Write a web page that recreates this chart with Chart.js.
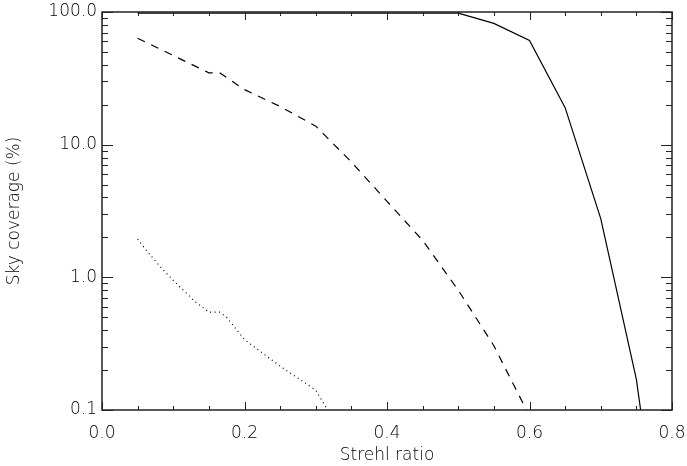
<!DOCTYPE html>
<html>
<head>
<meta charset="utf-8">
<script src="https://cdn.jsdelivr.net/npm/chart.js@4/dist/chart.umd.min.js"></script>
<style>
  html, body { margin: 0; padding: 0; background: #fff; }
  #wrap { width: 687px; height: 466px; }
</style>
</head>
<body>
<div id="wrap"><canvas id="skyChart"></canvas></div>
<script>
// Solid curve
const solidX = [0.05, 0.10, 0.20, 0.30, 0.40, 0.50, 0.55, 0.60, 0.65, 0.70, 0.75, 0.76];
const solidY = [98, 98, 98, 98, 98, 98, 82, 61, 19, 2.77, 0.17, 0.07];

// Dashed curve
const dashedX = [0.05, 0.10, 0.15, 0.165, 0.20, 0.25, 0.30, 0.35, 0.40, 0.45, 0.50, 0.55, 0.60];
const dashedY = [63.5, 47, 34.8, 34.8, 26, 19.4, 13.8, 7.4, 3.74, 1.9, 0.8, 0.305, 0.09];

// Dotted curve
const dottedX = [0.05, 0.065, 0.085, 0.10, 0.13, 0.15, 0.165, 0.175, 0.20, 0.25, 0.30, 0.35];
const dottedY = [1.94, 1.53, 1.15, 0.95, 0.66, 0.547, 0.547, 0.5, 0.339, 0.214, 0.141, 0.05];

// Axis ticks
const xMajorTicks = [0.0, 0.2, 0.4, 0.6, 0.8];
const xMinorTicks = [0.05, 0.1, 0.15, 0.25, 0.3, 0.35, 0.45, 0.5, 0.55, 0.65, 0.7, 0.75];
const yMajorTicks = [0.1, 1, 10, 100];
const yTickLabels = ['0.1', '1.0', '10.0', '100.0'];
const yMinorTicks = [0.2, 0.3, 0.4, 0.5, 0.6, 0.7, 0.8, 0.9,
                     2, 3, 4, 5, 6, 7, 8, 9,
                     20, 30, 40, 50, 60, 70, 80, 90];

const FONT = { family: 'DejaVu Sans', size: 17, weight: 200 };
const INK = '#222';
const TEXT = '#000';

function toPoints(xs, ys) {
    return xs.map((x, i) => ({ x: x, y: ys[i] }));
}

// IDL-style box with inward ticks on all four sides
const frameTicks = {
    id: 'frameTicks',
    afterDatasetsDraw(chart) {
        const { ctx, chartArea: a, scales: { x, y } } = chart;
        const seg = (x1, y1, x2, y2) => {
            ctx.beginPath();
            ctx.moveTo(x1, y1);
            ctx.lineTo(x2, y2);
            ctx.stroke();
        };
        ctx.save();
        ctx.strokeStyle = INK;
        ctx.lineWidth = 1.5;
        ctx.strokeRect(a.left, a.top, a.right - a.left, a.bottom - a.top);
        ctx.lineWidth = 1;
        xMajorTicks.forEach(v => {
            const px = Math.round(x.getPixelForValue(v)) + 0.5;
            seg(px, a.bottom, px, a.bottom - 8);
            seg(px, a.top, px, a.top + 8);
        });
        xMinorTicks.forEach(v => {
            const px = Math.round(x.getPixelForValue(v)) + 0.5;
            seg(px, a.bottom, px, a.bottom - 4);
            seg(px, a.top, px, a.top + 4);
        });
        yMajorTicks.forEach(v => {
            const py = Math.round(y.getPixelForValue(v)) + 0.5;
            seg(a.left, py, a.left + 11, py);
            seg(a.right, py, a.right - 11, py);
        });
        yMinorTicks.forEach(v => {
            const py = Math.round(y.getPixelForValue(v)) + 0.5;
            seg(a.left, py, a.left + 6, py);
            seg(a.right, py, a.right - 6, py);
        });
        ctx.restore();
    }
};

const lineStyle = {
    showLine: true,
    pointRadius: 0,
    pointHoverRadius: 0,
    borderColor: '#000',
    fill: false,
    tension: 0
};

new Chart(document.getElementById('skyChart'), {
    type: 'scatter',
    data: {
        datasets: [
            Object.assign({ label: 'solid', data: toPoints(solidX, solidY), borderWidth: 1.2 }, lineStyle),
            Object.assign({ label: 'dashed', data: toPoints(dashedX, dashedY), borderWidth: 1.2, borderDash: [8, 7] }, lineStyle),
            Object.assign({ label: 'dotted', data: toPoints(dottedX, dottedY), borderWidth: 1.2, borderDash: [1, 3.5], borderColor: '#333' }, lineStyle)
        ]
    },
    options: {
        responsive: true,
        maintainAspectRatio: false,
        animation: false,
        layout: { padding: { top: 12, right: 15, left: 4, bottom: 0 } },
        plugins: {
            legend: { display: false },
            tooltip: { enabled: false }
        },
        scales: {
            x: {
                type: 'linear',
                min: 0,
                max: 0.8,
                grid: { display: false, drawTicks: false },
                border: { display: false },
                afterBuildTicks: scale => { scale.ticks = xMajorTicks.map(v => ({ value: v })); },
                afterFit: scale => {
                    scale.height = 56;
                    scale.paddingLeft = 0;
                    scale.paddingRight = 0;
                },
                ticks: {
                    color: TEXT,
                    font: FONT,
                    padding: 13,
                    maxRotation: 0,
                    callback: v => Number(v).toFixed(1)
                },
                title: {
                    display: true,
                    text: 'Strehl ratio',
                    color: TEXT,
                    font: FONT,
                    padding: { top: 0, bottom: 0 }
                }
            },
            y: {
                type: 'logarithmic',
                min: 0.1,
                max: 100,
                grid: { display: false, drawTicks: false },
                border: { display: false },
                afterBuildTicks: scale => { scale.ticks = yMajorTicks.map(v => ({ value: v })); },
                afterFit: scale => {
                    scale.width = 98;
                    scale.paddingTop = 0;
                    scale.paddingBottom = 0;
                },
                ticks: {
                    color: TEXT,
                    font: FONT,
                    padding: 5,
                    callback: v => yTickLabels[yMajorTicks.indexOf(v)]
                },
                title: {
                    display: true,
                    text: 'Sky coverage (%)',
                    color: TEXT,
                    font: FONT,
                    padding: { top: 0, bottom: 0 }
                }
            }
        }
    },
    plugins: [frameTicks]
});
</script>
</body>
</html>
